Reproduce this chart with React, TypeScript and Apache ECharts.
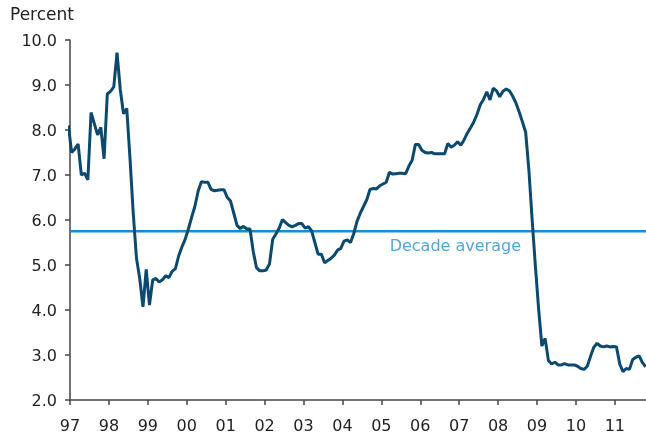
import React, { useEffect, useRef } from "react";
import * as echarts from "echarts";

// Monthly values, starting December 1996 (plotted mid-month)
const startYear = 1996;
const startMonth = 12;
const values: number[] = [
  8.1,
  7.5, 7.58, 7.69, 7.0, 7.04, 6.89, 8.39, 8.14, 7.89, 8.06, 7.36, 8.8,
  8.86, 8.96, 9.72, 8.9, 8.36, 8.48, 7.37, 6.15, 5.15, 4.7, 4.07, 4.9,
  4.11, 4.67, 4.7, 4.62, 4.67, 4.76, 4.72, 4.86, 4.92, 5.2, 5.4, 5.57,
  5.8, 6.06, 6.3, 6.64, 6.85, 6.84, 6.84, 6.68, 6.65, 6.66, 6.67, 6.67,
  6.5, 6.42, 6.15, 5.88, 5.81, 5.86, 5.8, 5.8, 5.3, 4.94, 4.87, 4.87,
  4.89, 5.02, 5.57, 5.69, 5.82, 6.01, 5.94, 5.88, 5.85, 5.88, 5.92, 5.92,
  5.82, 5.85, 5.76, 5.5, 5.24, 5.24, 5.05, 5.1, 5.15, 5.22, 5.33, 5.37,
  5.53, 5.56, 5.5, 5.7, 5.97, 6.15, 6.3, 6.45, 6.68, 6.7, 6.69, 6.76,
  6.8, 6.84, 7.06, 7.02, 7.03, 7.04, 7.04, 7.03, 7.2, 7.33, 7.68, 7.68,
  7.55, 7.5, 7.49, 7.5, 7.47, 7.47, 7.47, 7.47, 7.7, 7.62, 7.66, 7.74,
  7.66, 7.78, 7.93, 8.05, 8.18, 8.35, 8.56, 8.68, 8.85, 8.67, 8.93, 8.87,
  8.74, 8.86, 8.91, 8.87, 8.75, 8.6, 8.4, 8.18, 7.95, 7.1, 6.0, 4.97,
  4.02, 3.2, 3.37, 2.88, 2.8, 2.84, 2.78, 2.78, 2.81, 2.78, 2.78, 2.78,
  2.75, 2.7, 2.68, 2.75, 2.97, 3.17, 3.26, 3.2, 3.18, 3.2, 3.18, 3.19,
  3.18, 2.8, 2.63, 2.7, 2.68, 2.9, 2.95, 2.98, 2.83, 2.74,
];
const decadeAverage = 5.75;
const averageLabel = "Decade average";
const averageLabelYear = 2006.9;
const yearTicks = [1997, 1998, 1999, 2000, 2001, 2002, 2003, 2004, 2005, 2006, 2007, 2008, 2009, 2010, 2011];
const xMin = 1997;
const xMax = 2011.8;

const FONT = "DejaVu Sans, Verdana, sans-serif";

export default function App() {
  const ref = useRef<HTMLDivElement>(null);
  useEffect(() => {
    if (!ref.current) return;
    const chart = echarts.init(ref.current, undefined, { renderer: "svg" });
    const lineData = values.map((v, i) => {
      const monthIndex = startMonth - 1 + i; // months since Jan of startYear
      return [startYear + (monthIndex + 0.5) / 12, v];
    });
    chart.setOption({
      animation: false,
      title: {
        text: "Percent",
        left: 5,
        top: 0,
        textStyle: { fontFamily: FONT, fontSize: 17, fontWeight: "normal", color: "#222" },
      },
      grid: { left: 70, right: 0, top: 40, bottom: 39, containLabel: false },
      xAxis: {
        type: "value",
        min: xMin,
        max: xMax,
        interval: 1,
        axisLine: { show: true, lineStyle: { color: "#444", width: 1.5 } },
        axisTick: { show: true, length: 5, customValues: yearTicks, lineStyle: { color: "#444", width: 1.5 } },
        axisLabel: {
          customValues: yearTicks,
          formatter: (v: number) => String(Math.round(v) % 100).padStart(2, "0"),
          fontFamily: FONT,
          fontSize: 16,
          color: "#222",
          margin: 17,
        },
        splitLine: { show: false },
      },
      yAxis: {
        type: "value",
        min: 2,
        max: 10,
        interval: 1,
        axisLine: { show: true, lineStyle: { color: "#444", width: 1.5 } },
        axisTick: { show: true, length: 5, lineStyle: { color: "#444", width: 1.5 } },
        axisLabel: {
          formatter: (v: number) => v.toFixed(1),
          fontFamily: FONT,
          fontSize: 16,
          color: "#222",
          margin: 13,
        },
        splitLine: { show: false },
      },
      series: [
        {
          type: "line",
          data: [[xMin, decadeAverage], [xMax, decadeAverage]],
          symbol: "none",
          lineStyle: { color: "#1a8bcb", width: 2.5 },
          z: 1,
        },
        {
          type: "line",
          data: lineData,
          symbol: "none",
          clip: true,
          lineStyle: { color: "#0b4a6e", width: 3 },
          z: 2,
        },
        {
          type: "scatter",
          data: [[averageLabelYear, decadeAverage]],
          symbolSize: 0,
          silent: true,
          label: {
            show: true,
            position: "bottom",
            distance: 6,
            formatter: averageLabel,
            fontFamily: FONT,
            fontSize: 16,
            color: "#2590cf",
          },
          z: 3,
        },
      ],
    });
    return () => chart.dispose();
  }, []);
  return <div ref={ref} style={{ position: "fixed", left: 0, top: 0, width: 646, height: 439 }} />;
}
